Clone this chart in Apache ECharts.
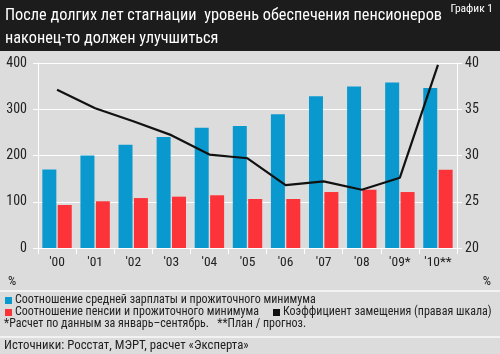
<!DOCTYPE html>
<html><head><meta charset="utf-8">
<script src="https://cdn.jsdelivr.net/npm/echarts@6/dist/echarts.min.js"></script>
<style>html,body{margin:0;padding:0;background:#dcdcdc}#c{width:500px;height:354px}</style>
</head><body><div id="c"></div>
<script>
const categories = ["'00","'01","'02","'03","'04","'05","'06","'07","'08","'09*","'10**"];
const wageRatio = [170, 200, 223, 240, 260, 264, 289, 328, 349, 358, 346];
const pensionRatio = [93, 101, 108, 111, 114, 106, 106, 121, 126, 121, 169];
const replacementRate = [37.1, 35.1, 33.7, 32.2, 30.1, 29.7, 26.8, 27.2, 26.3, 27.6, 39.8];
const leftTicks = [0, 100, 200, 300, 400];
const rightTicks = [20, 25, 30, 35, 40];
const titleLines = ["После долгих лет стагнации  уровень обеспечения пенсионеров", "наконец-то должен улучшиться"];
const seriesNames = ["Соотношение средней зарплаты и прожиточного минимума", "Соотношение пенсии и прожиточного минимума", "Коэффициент замещения (правая шкала)"];

const FONT = '"Roboto Condensed", Roboto, sans-serif';
const BLUE = '#0a99cf', RED = '#fc343a', TXT = '#222';
const chart = echarts.init(document.getElementById('c'));
chart.setOption({
  backgroundColor: '#dcdcdc',
  animation: false,
  textStyle: {fontFamily: FONT},
  grid: {left: 38, right: 43, top: 63, bottom: 106},
  xAxis: {
    type: 'category', data: categories,
    axisLine: {lineStyle: {color: '#fff', width: 1}},
    axisTick: {show: true, length: 6, lineStyle: {color: '#fff'}},
    axisLabel: {color: TXT, fontSize: 13.5, fontFamily: FONT, margin: 8, interval: 0}
  },
  yAxis: [{
    type: 'value', min: leftTicks[0], max: leftTicks[leftTicks.length - 1], interval: leftTicks[1] - leftTicks[0],
    axisLine: {show: true, lineStyle: {color: '#fff'}},
    axisTick: {show: true, length: 5, lineStyle: {color: '#fff'}},
    splitLine: {lineStyle: {color: '#fff', width: 1}},
    axisLabel: {color: TXT, fontSize: 14, fontFamily: FONT, margin: 11}
  }, {
    type: 'value', min: rightTicks[0], max: rightTicks[rightTicks.length - 1], interval: rightTicks[1] - rightTicks[0],
    axisLine: {show: true, lineStyle: {color: '#fff'}},
    axisTick: {show: true, length: 5, lineStyle: {color: '#fff'}},
    splitLine: {show: false},
    axisLabel: {color: TXT, fontSize: 14, fontFamily: FONT, margin: 8}
  }],
  series: [{
    name: seriesNames[0], type: 'bar', data: wageRatio, itemStyle: {color: BLUE},
    barWidth: 14, barGap: '10%'
  }, {
    name: seriesNames[1], type: 'bar', data: pensionRatio, itemStyle: {color: RED},
    barWidth: 14, barGap: '10%'
  }, {
    name: seriesNames[2], type: 'line', yAxisIndex: 1, data: replacementRate,
    symbol: 'none', lineStyle: {color: '#111', width: 2.2}, z: 5
  }],
  graphic: [
    {type: 'rect', left: 0, top: 0, shape: {width: 500, height: 51}, style: {fill: '#1c1c1c'}},
    {type: 'text', left: 5, top: 8, style: {text: titleLines[0], fill: '#fff', font: '16.3px ' + FONT}},
    {type: 'text', left: 5, top: 31, style: {text: titleLines[1], fill: '#fff', font: '16.3px ' + FONT}},
    {type: 'text', right: 7, top: 3, style: {text: 'График 1', fill: '#fff', font: '11.5px ' + FONT}},
    {type: 'text', left: 8, top: 275, style: {text: '%', fill: TXT, font: '13px ' + FONT}},
    {type: 'text', right: 9, top: 275, style: {text: '%', fill: TXT, font: '13px ' + FONT}},
    {type: 'rect', left: 0, top: 290, shape: {width: 500, height: 2}, style: {fill: '#f2f2f2'}},
    {type: 'rect', left: 5, top: 297, shape: {width: 7, height: 7}, style: {fill: BLUE}},
    {type: 'text', left: 15, top: 294, style: {text: seriesNames[0], fill: TXT, font: '12px ' + FONT}},
    {type: 'rect', left: 5, top: 309, shape: {width: 7, height: 7}, style: {fill: RED}},
    {type: 'text', left: 15, top: 306, style: {text: seriesNames[1], fill: TXT, font: '12px ' + FONT}},
    {type: 'rect', left: 273, top: 309, shape: {width: 7, height: 7}, style: {fill: '#111'}},
    {type: 'text', left: 283, top: 306, style: {text: seriesNames[2], fill: TXT, font: '12px ' + FONT}},
    {type: 'text', left: 4, top: 318, style: {text: '*Расчет по данным за январь–сентябрь.   **План / прогноз.', fill: TXT, font: '12px ' + FONT}},
    {type: 'rect', left: 0, top: 336, shape: {width: 500, height: 2}, style: {fill: '#f2f2f2'}},
    {type: 'text', left: 4, top: 339, style: {text: 'Источники: Росстат, МЭРТ, расчет «Эксперта»', fill: TXT, font: '12.8px ' + FONT}}
  ]
});
</script></body></html>
